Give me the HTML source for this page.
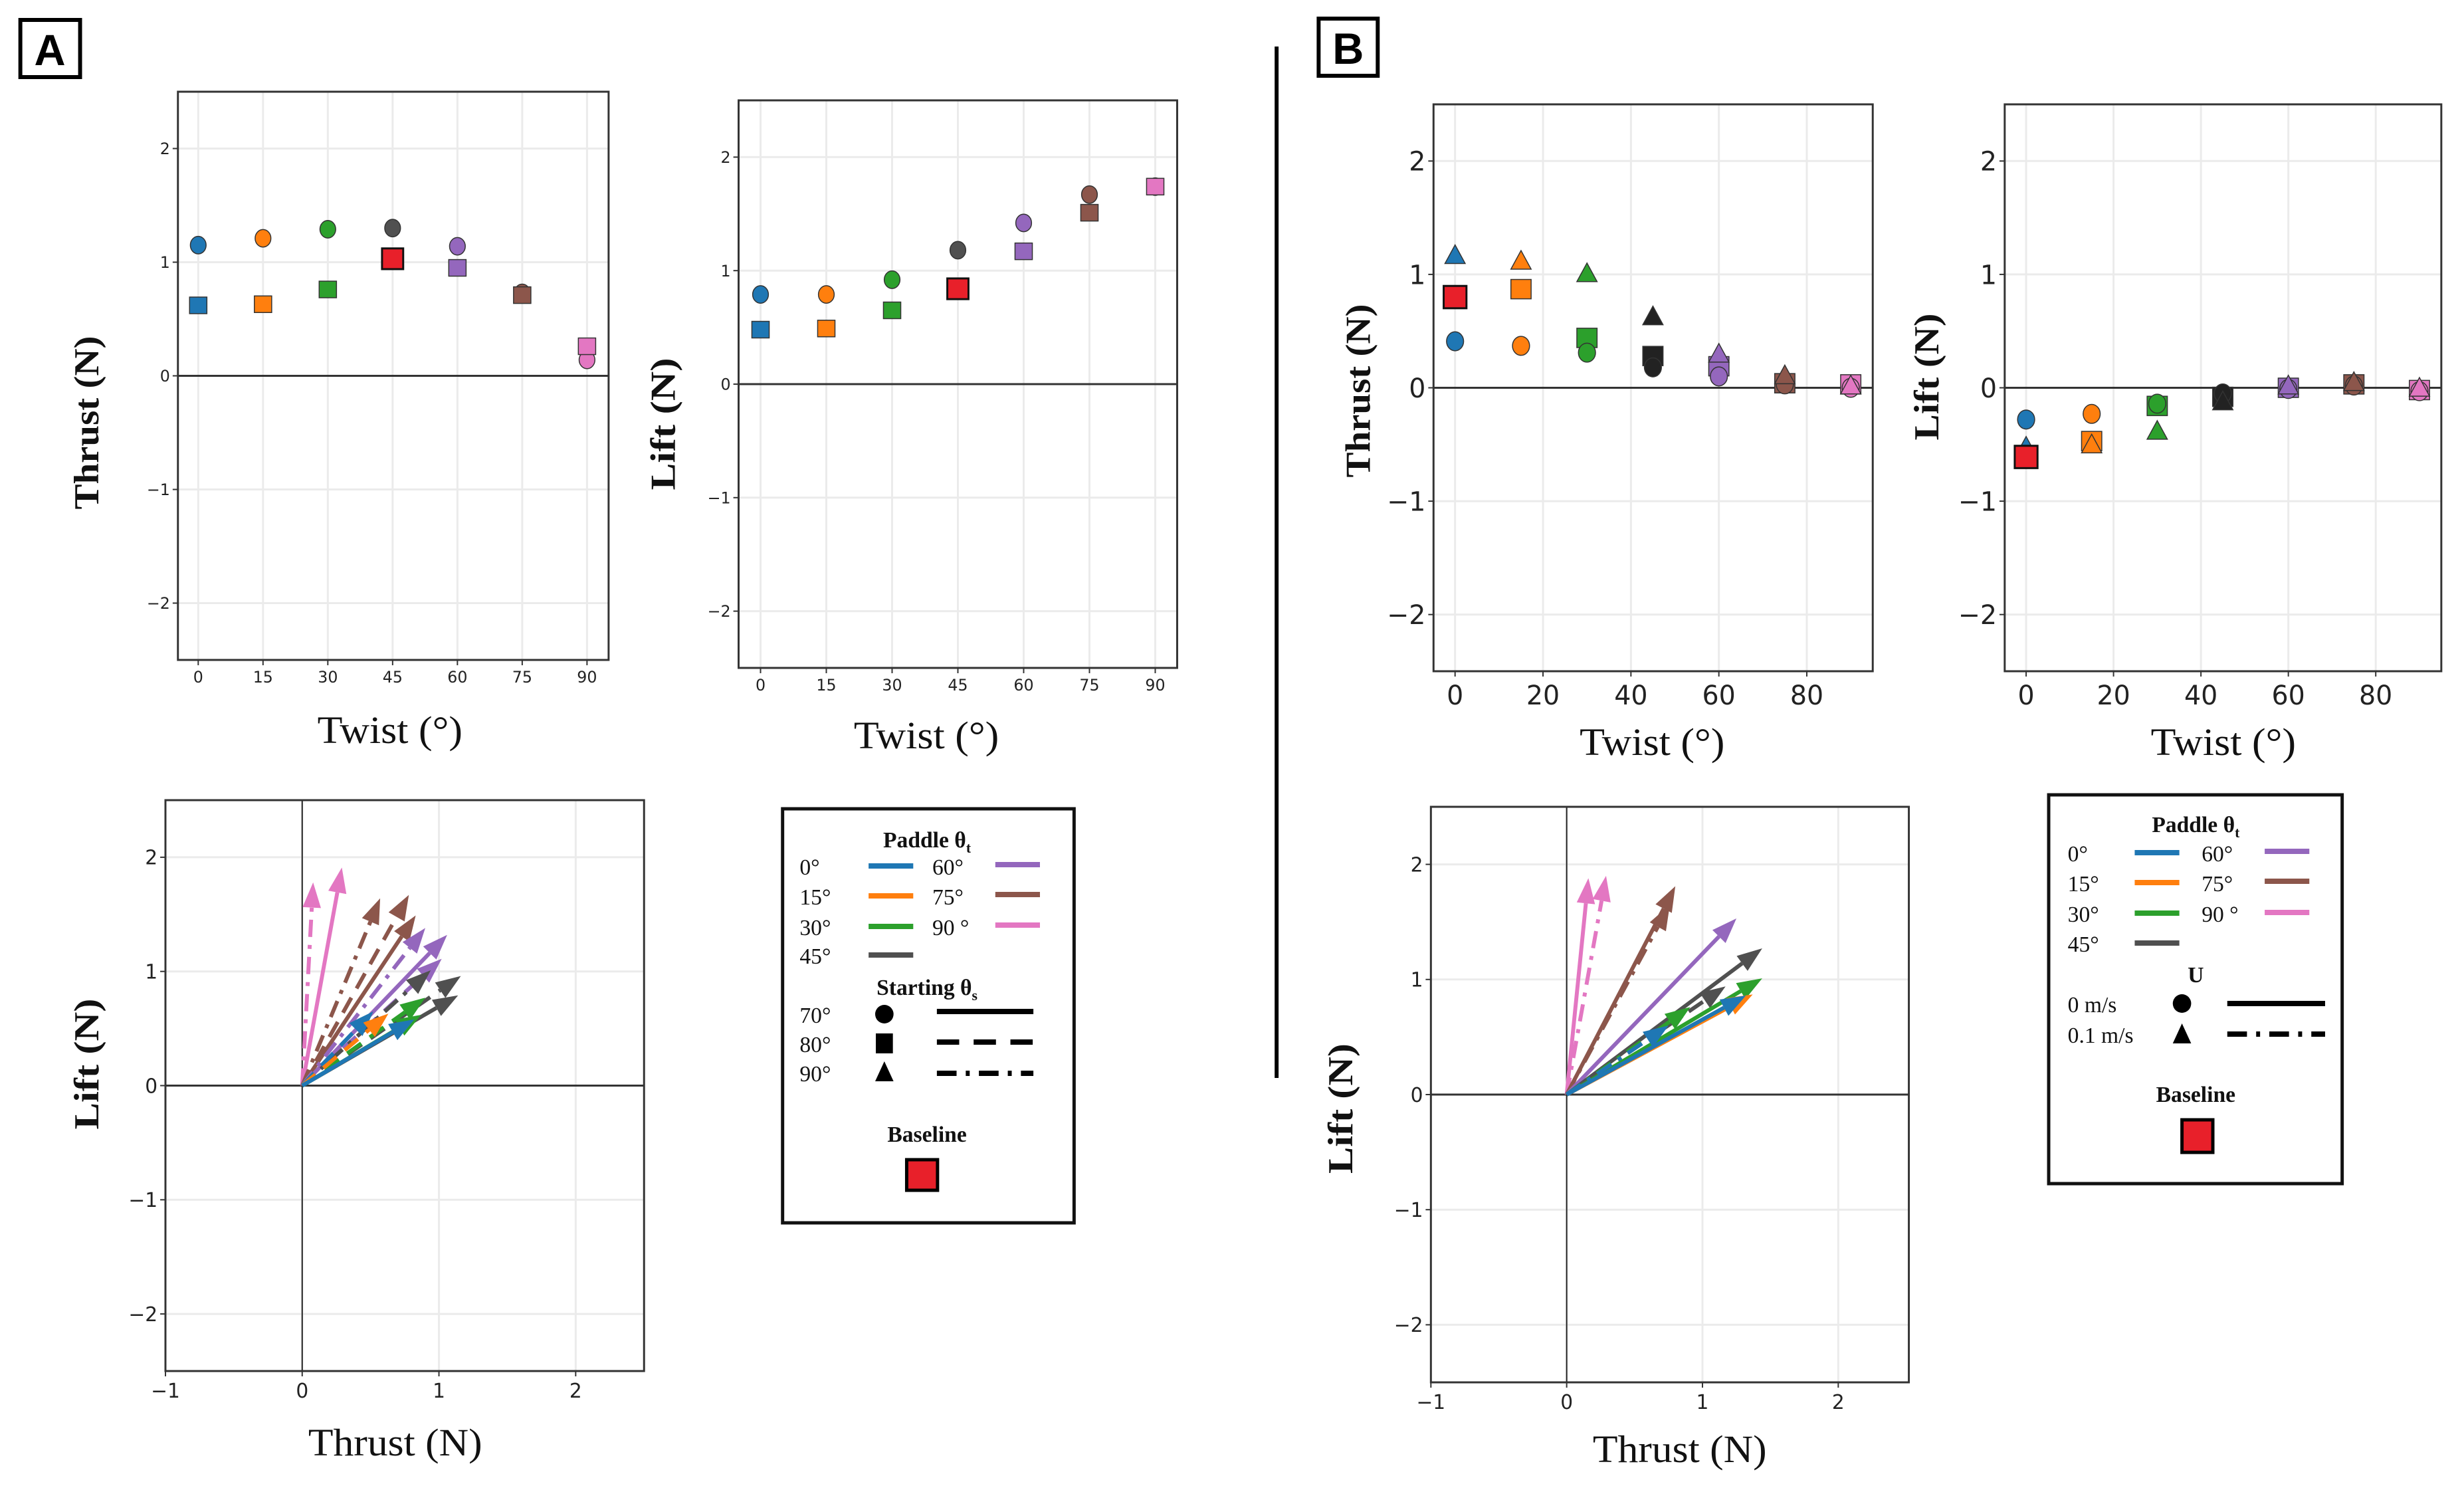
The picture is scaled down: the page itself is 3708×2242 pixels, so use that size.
<!DOCTYPE html>
<html><head><meta charset="utf-8">
<style>
html,body{margin:0;padding:0;background:#fff;}
svg{display:block;}
.tick{font-family:"DejaVu Sans","Liberation Sans",sans-serif;fill:#222;}
.ser{font-family:"Liberation Serif",serif;fill:#111;}
</style></head>
<body>
<svg id="fig" width="3708" height="2242" viewBox="0 0 3708 2242" xmlns="http://www.w3.org/2000/svg">
<rect x="0" y="0" width="3708" height="2242" fill="#fff"/>
<g id="left" transform="matrix(0.988,0,0,1,0,0)">
<g>
<rect x="31" y="30" width="91" height="86" fill="#fff" stroke="#000" stroke-width="6"/>
<text x="76" y="98" text-anchor="middle" font-family="Liberation Sans, sans-serif" font-weight="bold" font-size="66">A</text>
</g>
<g class="ser">
<rect x="1192" y="1217" width="444" height="623" fill="#fff" stroke="#111" stroke-width="5"/>
<text x="1412" y="1275" text-anchor="middle" font-size="34" font-weight="bold">Paddle θ<tspan font-size="22" dy="8">t</tspan></text>
<text x="1218" y="1316" font-size="34">0°</text><line x1="1323" y1="1303" x2="1391" y2="1303" stroke="#1f77b4" stroke-width="8"/>
<text x="1218" y="1361" font-size="34">15°</text><line x1="1323" y1="1348" x2="1391" y2="1348" stroke="#ff7f0e" stroke-width="8"/>
<text x="1218" y="1407" font-size="34">30°</text><line x1="1323" y1="1394" x2="1391" y2="1394" stroke="#2ca02c" stroke-width="8"/>
<text x="1218" y="1450" font-size="34">45°</text><line x1="1323" y1="1437" x2="1391" y2="1437" stroke="#505050" stroke-width="8"/>
<text x="1420" y="1316" font-size="34">60°</text><line x1="1516" y1="1301" x2="1584" y2="1301" stroke="#9467bd" stroke-width="8"/>
<text x="1420" y="1361" font-size="34">75°</text><line x1="1516" y1="1346" x2="1584" y2="1346" stroke="#8c564b" stroke-width="8"/>
<text x="1420" y="1407" font-size="34">90 °</text><line x1="1516" y1="1392" x2="1584" y2="1392" stroke="#e377c2" stroke-width="8"/>
<text x="1412" y="1497" text-anchor="middle" font-size="34" font-weight="bold">Starting θ<tspan font-size="22" dy="8">s</tspan></text>
<text x="1218" y="1539" font-size="34">70°</text><circle cx="1347" cy="1526" r="14" fill="#000"/><line x1="1427" y1="1522" x2="1574" y2="1522" stroke="#000" stroke-width="8"/>
<text x="1218" y="1583" font-size="34">80°</text><rect x="1334" y="1555" width="26" height="30" fill="#000"/><line x1="1427" y1="1568" x2="1574" y2="1568" stroke="#000" stroke-width="8" stroke-dasharray="34,22"/>
<text x="1218" y="1627" font-size="34">90°</text><polygon points="1347,1597 1361,1627 1333,1627" fill="#000"/><line x1="1427" y1="1615" x2="1574" y2="1615" stroke="#000" stroke-width="8" stroke-dasharray="30,14,6,14"/>
<text x="1412" y="1718" text-anchor="middle" font-size="34" font-weight="bold">Baseline</text>
<rect x="1381" y="1745" width="47" height="46" fill="#e8202a" stroke="#000" stroke-width="5"/>
</g>
</g>
<g id="right" transform="matrix(0.988,0,0,1,22.2,0)">
<g>
<rect x="1986" y="28" width="90" height="86" fill="#fff" stroke="#000" stroke-width="6"/>
<text x="2031" y="96" text-anchor="middle" font-family="Liberation Sans, sans-serif" font-weight="bold" font-size="66">B</text>
</g>
<line x1="1922" y1="70" x2="1922" y2="1622" stroke="#000" stroke-width="6"/>
<g class="ser">
<rect x="3098" y="1196" width="447" height="585" fill="#fff" stroke="#111" stroke-width="5"/>
<text x="3322" y="1252" text-anchor="middle" font-size="34" font-weight="bold">Paddle θ<tspan font-size="22" dy="8">t</tspan></text>
<text x="3127" y="1296" font-size="34">0°</text><line x1="3229" y1="1283" x2="3297" y2="1283" stroke="#1f77b4" stroke-width="8"/>
<text x="3127" y="1341" font-size="34">15°</text><line x1="3229" y1="1328" x2="3297" y2="1328" stroke="#ff7f0e" stroke-width="8"/>
<text x="3127" y="1387" font-size="34">30°</text><line x1="3229" y1="1374" x2="3297" y2="1374" stroke="#2ca02c" stroke-width="8"/>
<text x="3127" y="1432" font-size="34">45°</text><line x1="3229" y1="1419" x2="3297" y2="1419" stroke="#505050" stroke-width="8"/>
<text x="3331" y="1296" font-size="34">60°</text><line x1="3427" y1="1281" x2="3495" y2="1281" stroke="#9467bd" stroke-width="8"/>
<text x="3331" y="1341" font-size="34">75°</text><line x1="3427" y1="1326" x2="3495" y2="1326" stroke="#8c564b" stroke-width="8"/>
<text x="3331" y="1387" font-size="34">90 °</text><line x1="3427" y1="1373" x2="3495" y2="1373" stroke="#e377c2" stroke-width="8"/>
<text x="3322" y="1478" text-anchor="middle" font-size="34" font-weight="bold">U</text>
<text x="3127" y="1523" font-size="34">0 m/s</text><circle cx="3301" cy="1510" r="14" fill="#000"/><line x1="3370" y1="1510" x2="3519" y2="1510" stroke="#000" stroke-width="8"/>
<text x="3127" y="1569" font-size="34">0.1 m/s</text><polygon points="3301,1540 3315,1570 3287,1570" fill="#000"/><line x1="3370" y1="1556" x2="3519" y2="1556" stroke="#000" stroke-width="8" stroke-dasharray="30,14,6,14"/>
<text x="3322" y="1658" text-anchor="middle" font-size="34" font-weight="bold">Baseline</text>
<rect x="3301" y="1685" width="47" height="49" fill="#e8202a" stroke="#000" stroke-width="5"/>
</g>
</g>
</svg>

<script>
// ---------- data ----------
const colors = ['#1f77b4','#ff7f0e','#2ca02c','#505050','#9467bd','#8c564b','#e377c2'];
const colorsB = ['#1f77b4','#ff7f0e','#2ca02c','#222222','#9467bd','#8c564b','#e377c2'];
const twist = [0,15,30,45,60,75,90];
const yTicks = [-2,-1,0,1,2];
const twistTicksA = [0,15,30,45,60,75,90];
const twistTicksB = [0,20,40,60,80];
const vecTicksX = [-1,0,1,2];

// Panel A thrust / lift (circles = 70°, squares = 80°); null = baseline
const thrustA70 = [1.15,1.21,1.29,1.30,1.14,0.73,0.14];
const thrustA80 = [0.62,0.63,0.76,null,0.95,0.71,0.26];
const liftA70 = [0.79,0.79,0.92,1.18,1.42,1.67,1.74];
const liftA80 = [0.48,0.49,0.65,null,1.17,1.51,1.74];
const baselineThrustA = 1.03, baselineLiftA = 0.84, baselineTwistA = 45;

// Panel B thrust / lift (circles U=0, triangles U=0.1, squares)
const thrustBcirc = [0.41,0.37,0.31,0.18,0.10,0.03,0.00];
const thrustBtri  = [1.17,1.12,1.01,0.63,0.30,0.11,0.02];
const thrustBsq   = [null,0.87,0.44,0.28,0.19,0.04,0.03];
const liftBcirc = [-0.28,-0.23,-0.14,-0.05,-0.01,0.02,-0.03];
const liftBtri  = [-0.52,-0.50,-0.38,-0.12,0.02,0.05,0.00];
const liftBsq   = [null,-0.47,-0.16,-0.08,0.00,0.03,-0.02];
const baselineThrustB = 0.80, baselineLiftB = -0.61, baselineTwistB = 0;

// Vector plots: thrust, lift, color index, style
const vecAthrust = [0.08,0.29,0.57,0.78,0.83,0.90,1.06,1.02,0.94,1.16,1.14,0.90,0.87,0.52,0.63,0.82];
const vecAlift   = [1.78,1.91,1.64,1.67,1.49,1.38,1.32,1.11,1.01,0.96,0.79,0.77,0.62,0.65,0.63,0.58];
const vecAcolor  = [6,6,5,5,5,4,4,4,3,3,3,2,2,0,1,0];
const vecAstyle  = ['dd','s','dd','d','s','dd','s','d','dd','d','s','d','s','d','d','s'];
const vecBthrust = [0.16,0.29,0.80,0.76,1.25,1.44,1.17,1.44,0.91,1.37,1.32,0.75];
const vecBlift   = [1.88,1.90,1.81,1.65,1.53,1.27,0.94,1.01,0.76,0.87,0.86,0.60];
const vecBcolor  = [6,6,5,5,4,3,3,2,2,1,0,0];
const vecBstyle  = ['s','dd','s','dd','s','s','dd','s','dd','s','s','dd'];

// ---------- helpers ----------
const NS='http://www.w3.org/2000/svg';
const left=document.getElementById('left');
const right=document.getElementById('right');
function mk(tag,attrs,parent){const e=document.createElementNS(NS,tag);for(const k in attrs)e.setAttribute(k,attrs[k]);parent.appendChild(e);return e;}

function axes(o,parent){
  const g=mk('g',{},parent);
  
  
  const sx=v=>o.x0+(v-o.xmin)/(o.xmax-o.xmin)*(o.x1-o.x0);
  const sy=v=>o.y1-(v-o.ymin)/(o.ymax-o.ymin)*(o.y1-o.y0);
  mk('rect',{x:o.x0,y:o.y0,width:o.x1-o.x0,height:o.y1-o.y0,fill:'#fff'},g);
  o.xticks.forEach(t=>{
    const gl=mk('line',{x1:sx(t),x2:sx(t),y1:o.y0,y2:o.y1,stroke:'#ebebeb','stroke-width':3},g);
    
    
    mk('line',{x1:sx(t),x2:sx(t),y1:o.y1,y2:o.y1+8,stroke:'#333','stroke-width':2},g);
    const tl=mk('text',{x:sx(t),y:o.y1+10+o.fs,'text-anchor':'middle','font-size':o.fs,class:'tick'},g);
    tl.textContent=(t<0?'\u2212'+(-t):t);
    
    
  });
  yTicks.forEach(t=>{
    const gl=mk('line',{x1:o.x0,x2:o.x1,y1:sy(t),y2:sy(t),stroke:'#ebebeb','stroke-width':3},g);
    
    
    mk('line',{x1:o.x0-8,x2:o.x0,y1:sy(t),y2:sy(t),stroke:'#333','stroke-width':2},g);
    const tl=mk('text',{x:o.x0-12,y:sy(t)+o.fs*0.36,'text-anchor':'end','font-size':o.fs,class:'tick'},g);
    tl.textContent=(t<0?'\u2212'+(-t):t);
    
    
  });
  mk('line',{x1:o.x0,x2:o.x1,y1:sy(0),y2:sy(0),stroke:'#333','stroke-width':3},g);
  if(o.vzero) mk('line',{x1:sx(0),x2:sx(0),y1:o.y0,y2:o.y1,stroke:'#222','stroke-width':2},g);
  mk('rect',{x:o.x0,y:o.y0,width:o.x1-o.x0,height:o.y1-o.y0,fill:'none',stroke:'#333','stroke-width':3},g);
  const xl=mk('text',{x:o.xlx,y:o.xly,'text-anchor':'middle','font-size':58,class:'ser',textLength:o.xlw,lengthAdjust:'spacingAndGlyphs'},g);
  xl.textContent=o.xlabel;
  
  
  const yl=mk('text',{x:0,y:0,'text-anchor':'middle','font-size':54,'font-weight':'bold',class:'ser',textLength:o.ylw,lengthAdjust:'spacingAndGlyphs',transform:`translate(${o.ylx},${o.yly}) rotate(-90)`},g);
  yl.textContent=o.ylabel;
  
  
  return {g,sx,sy};
}

function marker(g,shape,cx,cy,col,size,name){
  let e;
  if(shape==='c') e=mk('ellipse',{cx,cy,rx:size*0.5,ry:size*0.55,fill:col,stroke:'#333','stroke-width':1.5},g);
  else if(shape==='s') e=mk('rect',{x:cx-size*0.55,y:cy-size*0.52,width:size*1.1,height:size*1.04,fill:col,stroke:'#333','stroke-width':1.5},g);
  else if(shape==='b') e=mk('rect',{x:cx-size*0.62,y:cy-size*0.6,width:size*1.24,height:size*1.2,fill:'#e8202a',stroke:'#111','stroke-width':3},g);
  else e=mk('polygon',{points:`${cx},${cy-size*0.55} ${cx+size*0.55},${cy+size*0.45} ${cx-size*0.55},${cy+size*0.45}`,fill:col,stroke:'#333','stroke-width':1.5},g);
  
  
}

function series(ax,xs,ys,shape,cols,size,name){
  xs.forEach((x,i)=>{ if(ys[i]===null) return; marker(ax.g,shape,ax.sx(x),ax.sy(ys[i]),cols[i],size,name); });
}

function arrows(ax,tx,ly,ci,st,cols){
  tx.forEach((t,i)=>{
    const x0=ax.sx(0),y0=ax.sy(0),x1=ax.sx(t),y1=ax.sy(ly[i]);
    const dx=x1-x0,dy=y1-y0,L=Math.hypot(dx,dy),ux=dx/L,uy=dy/L;
    const hl=38,hw=14;
    const bx=x1-ux*hl,by=y1-uy*hl;
    const dash=st[i]==='d'?'26,16':(st[i]==='dd'?'26,12,6,12':'none');
    const ln=mk('line',{x1:x0,y1:y0,x2:bx,y2:by,stroke:cols[ci[i]],'stroke-width':6,'stroke-dasharray':dash},ax.g);
    
    
    const hd=mk('polygon',{points:`${x1},${y1} ${bx-uy*hw},${by+ux*hw} ${bx+uy*hw},${by-ux*hw}`,fill:cols[ci[i]]},ax.g);
    
    
  });
}

// ---------- panel A ----------
const aT=axes({name:'thrust-vs-twist-a',x0:271,x1:927,y0:138,y1:993,xmin:-4.7,xmax:95,ymin:-2.5,ymax:2.5,xticks:twistTicksA,fs:24,
  xlabel:'Twist (°)',xlx:594,xly:1118,xlw:221,ylabel:'Thrust (N)',ylx:150,yly:636,ylw:261},left);
series(aT,twist,thrustA70,'c',colors,24,'marker-70deg');
series(aT,twist,thrustA80,'s',colors,24,'marker-80deg');
marker(aT.g,'b',aT.sx(baselineTwistA),aT.sy(baselineThrustA),'#e8202a',26,'baseline-marker');

const aL=axes({name:'lift-vs-twist-a',x0:1125,x1:1793,y0:151,y1:1005,xmin:-5,xmax:95,ymin:-2.5,ymax:2.5,xticks:twistTicksA,fs:24,
  xlabel:'Twist (°)',xlx:1411,xly:1126,xlw:221,ylabel:'Lift (N)',ylx:1028,yly:638,ylw:199},left);
series(aL,twist,liftA70,'c',colors,24,'marker-70deg');
series(aL,twist,liftA80,'s',colors,24,'marker-80deg');
marker(aL.g,'b',aL.sx(baselineTwistA),aL.sy(baselineLiftA),'#e8202a',26,'baseline-marker');

const aV=axes({name:'lift-vs-thrust-a',x0:252,x1:981,y0:1204,y1:2063,xmin:-1,xmax:2.5,ymin:-2.5,ymax:2.5,xticks:vecTicksX,fs:30,vzero:true,
  xlabel:'Thrust (N)',xlx:602,xly:2190,xlw:265,ylabel:'Lift (N)',ylx:150,yly:1601,ylw:197},left);
arrows(aV,vecAthrust,vecAlift,vecAcolor,vecAstyle,colors);

// ---------- panel B ----------
const bT=axes({name:'thrust-vs-twist-b',x0:2161,x1:2830,y0:157,y1:1010,xmin:-4.9,xmax:95,ymin:-2.5,ymax:2.5,xticks:twistTicksB,fs:40,
  xlabel:'Twist (°)',xlx:2494,xly:1136,xlw:221,ylabel:'Thrust (N)',ylx:2064,yly:588,ylw:261},right);
series(bT,twist,thrustBsq,'s',colorsB,28,'marker-square');
series(bT,twist,thrustBcirc,'c',colorsB,26,'marker-u0');
series(bT,twist,thrustBtri,'t',colorsB,28,'marker-u01');
marker(bT.g,'b',bT.sx(baselineTwistB),bT.sy(baselineThrustB),'#e8202a',28,'baseline-marker');

const bL=axes({name:'lift-vs-twist-b',x0:3031,x1:3696,y0:157,y1:1010,xmin:-4.9,xmax:95,ymin:-2.5,ymax:2.5,xticks:twistTicksB,fs:40,
  xlabel:'Twist (°)',xlx:3364,xly:1136,xlw:221,ylabel:'Lift (N)',ylx:2930,yly:567,ylw:191},right);
series(bL,twist,liftBsq,'s',colorsB,28,'marker-square');
series(bL,twist,liftBcirc,'c',colorsB,26,'marker-u0');
series(bL,twist,liftBtri,'t',colorsB,28,'marker-u01');
marker(bL.g,'b',bL.sx(baselineTwistB),bL.sy(baselineLiftB),'#e8202a',28,'baseline-marker');

const bV=axes({name:'lift-vs-thrust-b',x0:2157,x1:2885,y0:1214,y1:2080,xmin:-1,xmax:2.52,ymin:-2.5,ymax:2.5,xticks:vecTicksX,fs:30,vzero:true,
  xlabel:'Thrust (N)',xlx:2536,xly:2200,xlw:265,ylabel:'Lift (N)',ylx:2037,yly:1668,ylw:196},right);
arrows(bV,vecBthrust,vecBlift,vecBcolor,vecBstyle,colors);
</script>
</body></html>
